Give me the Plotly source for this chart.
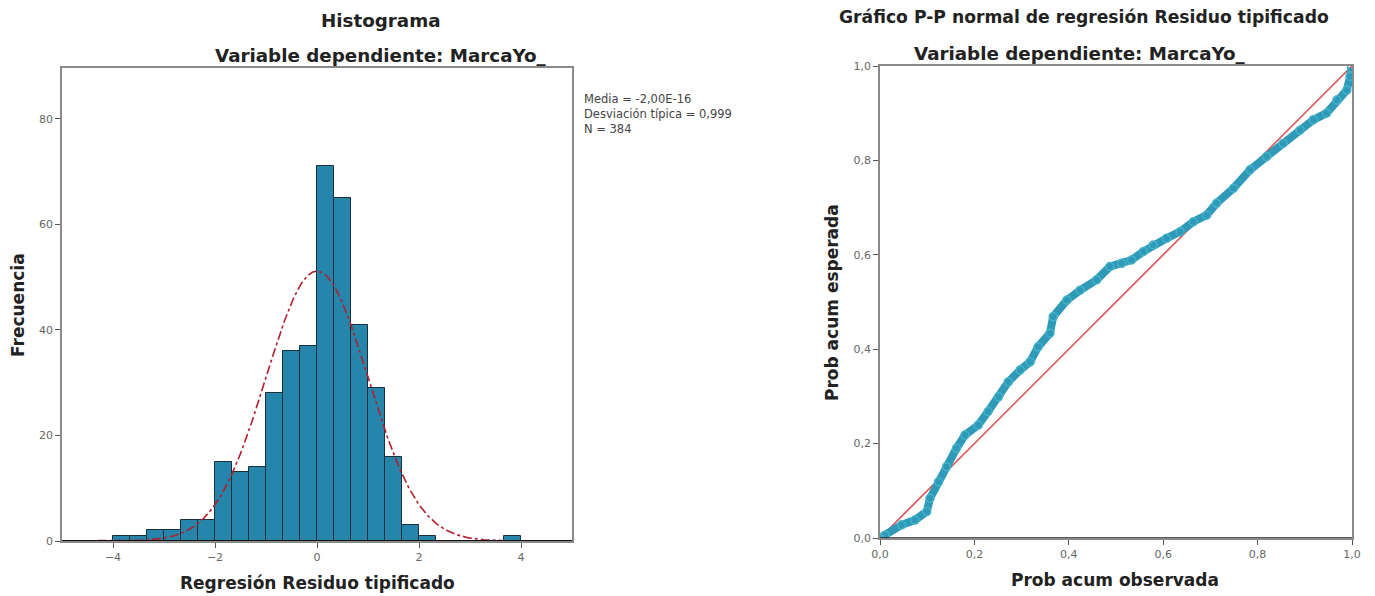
import math
import plotly.graph_objects as go

# ---------------- data ----------------
# Histogram of standardized residuals (bin width 1/3, from -4 to 4)
bin_start = -4.0
bin_width = 1.0 / 3.0
counts = [1, 1, 2, 2, 4, 4, 15, 13, 14, 28, 36, 37,
          71, 65, 41, 29, 16, 3, 1, 0, 0, 0, 0, 1]
stat_mean = -2.00e-16
stat_sd = 0.999
stat_n = 384

hist_xticks = [-4, -2, 0, 2, 4]
hist_yticks = [0, 20, 40, 60, 80]

pp_obs = [0.000, 0.011, 0.046, 0.074, 0.099, 0.106, 0.124, 0.141, 0.162, 0.180,
          0.208, 0.229, 0.251, 0.272, 0.297, 0.318, 0.335, 0.360, 0.367, 0.396,
          0.424, 0.459, 0.487, 0.512, 0.533, 0.558, 0.579, 0.607, 0.636, 0.664,
          0.692, 0.713, 0.749, 0.784, 0.819, 0.854, 0.890, 0.918, 0.946, 0.968,
          0.989, 0.996, 0.999]
pp_exp = [0.000, 0.006, 0.028, 0.038, 0.056, 0.084, 0.119, 0.151, 0.190, 0.218,
          0.239, 0.268, 0.299, 0.331, 0.356, 0.373, 0.405, 0.434, 0.469, 0.504,
          0.525, 0.547, 0.575, 0.582, 0.589, 0.607, 0.621, 0.635, 0.649, 0.670,
          0.684, 0.709, 0.741, 0.780, 0.808, 0.836, 0.864, 0.886, 0.900, 0.928,
          0.949, 0.978, 0.996]
ref_x = [0, 1]
ref_y = [0, 1]
pp_ticks = [0.0, 0.2, 0.4, 0.6, 0.8, 1.0]
pp_ticktext = ["0,0", "0,2", "0,4", "0,6", "0,8", "1,0"]

# ---------------- derived ----------------
centers = [bin_start + (i + 0.5) * bin_width for i in range(len(counts))]
curve_x = [-5 + i * 0.02 for i in range(501)]
curve_y = [stat_n * bin_width / (stat_sd * math.sqrt(2 * math.pi)) *
           math.exp(-0.5 * ((x - stat_mean) / stat_sd) ** 2) for x in curve_x]

# page body has an 8px margin: the figure starts at (8, 8) of the window
OFF = 8
W, H = 1375 - OFF, 596 - OFF
def px(x):
    return (x - OFF) / W
def py(y):
    return 1 - (y - OFF) / H

FONT = "DejaVu Sans"
BAR_COLOR = "#2585aa"
PP_COLOR = "#2f99b8"
RED = "#d9484a"

fig = go.Figure()

fig.add_trace(go.Bar(
    x=centers, y=counts, width=bin_width,
    marker=dict(color=BAR_COLOR, line=dict(color="#1b2f3a", width=1)),
    xaxis="x", yaxis="y", showlegend=False, hoverinfo="x+y"))

fig.add_trace(go.Scatter(
    x=curve_x, y=curve_y, mode="lines",
    line=dict(color="#b0202c", width=1.6, dash="dashdot"),
    xaxis="x", yaxis="y", showlegend=False))

fig.add_trace(go.Scatter(
    x=ref_x, y=ref_y, mode="lines",
    line=dict(color=RED, width=1.5),
    xaxis="x2", yaxis="y2", showlegend=False))

fig.add_trace(go.Scatter(
    x=pp_obs, y=pp_exp, mode="lines+markers",
    line=dict(color=PP_COLOR, width=8),
    marker=dict(symbol="circle-open", size=8, color="#43b3cb", line=dict(width=1.5)),
    xaxis="x2", yaxis="y2", showlegend=False))

axis_common = dict(showgrid=False, zeroline=False, showline=True, mirror=True,
                   automargin=False,
                   linecolor="#8a8a8a", linewidth=1.5, ticks="outside", ticklen=5,
                   tickcolor="#555", tickwidth=1.2,
                   tickfont=dict(family=FONT, size=11, color="#666"))

fig.update_layout(
    width=W, height=H,
    paper_bgcolor="white", plot_bgcolor="white",
    margin=dict(l=0, r=0, t=0, b=0, pad=0, autoexpand=False),
    bargap=0,
    xaxis=dict(domain=[px(62), px(572)], range=[-5, 5], tickvals=hist_xticks,
               anchor="y", **axis_common),
    yaxis=dict(domain=[py(541), py(68)], range=[0, 89.6], tickvals=hist_yticks,
               anchor="x", **axis_common),
    xaxis2=dict(domain=[px(880), px(1352)], range=[0, 1], tickvals=pp_ticks,
                ticktext=pp_ticktext, anchor="y2", **axis_common),
    yaxis2=dict(domain=[py(538), py(66)], range=[0, 1], tickvals=pp_ticks,
                ticktext=pp_ticktext, anchor="x2", **axis_common),
    shapes=[
        dict(type="line", xref="x domain", yref="y", x0=0, x1=1, y0=0, y1=0,
             line=dict(color="#111", width=1.8)),
        dict(type="line", xref="x2 domain", yref="y2", x0=0, x1=1, y0=0, y1=0,
             line=dict(color="#222", width=1.5)),
    ],
)

def ann(text, x, y, size=15, bold=True, angle=0, color="#222", xanchor="center", align="center"):
    fig.add_annotation(
        text=f"<b>{text}</b>" if bold else text,
        x=px(x), y=py(y), xref="paper", yref="paper",
        showarrow=False, textangle=angle, xanchor=xanchor, yanchor="middle",
        align=align, font=dict(family=FONT, size=size, color=color))

TITLE = 18.3
AXT = 17
ann("Histograma", 381, 20, size=TITLE)
ann("Variable dependiente: MarcaYo_", 381, 55, size=TITLE)
ann("Regresión Residuo tipificado", 317, 583, size=AXT)
ann("Frecuencia", 18, 305, size=AXT, angle=-90)
ann("Gráfico P-P normal de regresión Residuo tipificado", 1084, 17, size=17.2)
ann("Variable dependiente: MarcaYo_", 1080, 53, size=TITLE)
ann("Prob acum observada", 1115, 580, size=AXT)
ann("Prob acum esperada", 832, 303, size=AXT, angle=-90)

stats_text = (f"Media = -2,00E-16<br>"
              f"Desviación típica = {stat_sd:.3f}".replace(".", ",") +
              f"<br>N = {stat_n}")
fig.add_annotation(text=stats_text, x=px(582), y=py(114), xref="paper", yref="paper",
                   showarrow=False, xanchor="left", yanchor="middle", align="left",
                   font=dict(family=FONT, size=11.5, color="#444"))

fig.write_html("out.html")
